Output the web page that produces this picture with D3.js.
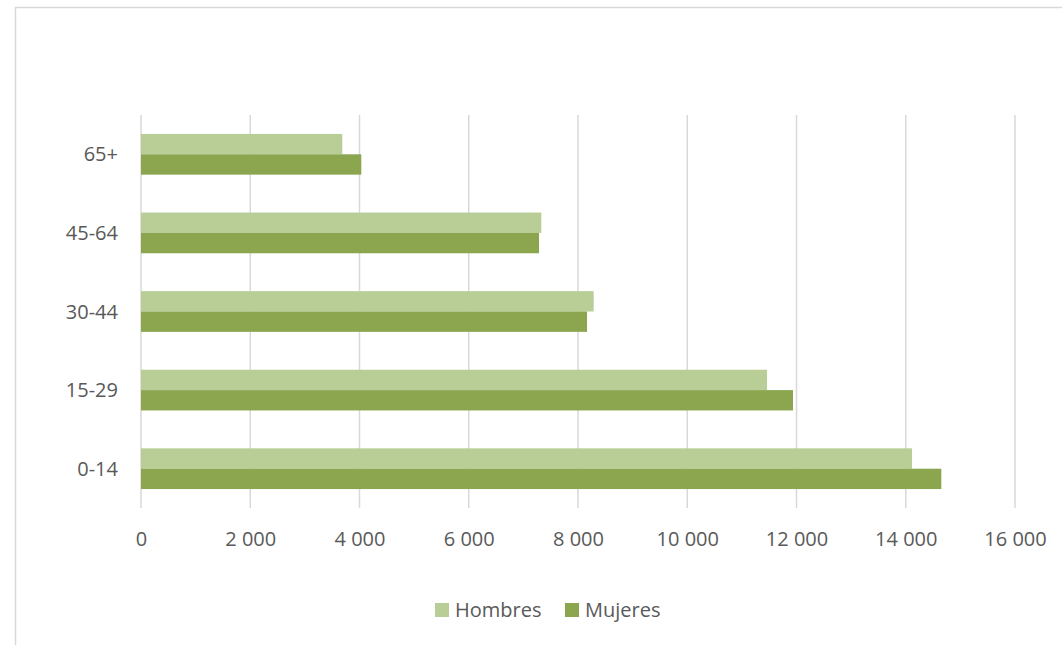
<!DOCTYPE html>
<html>
<head>
<meta charset="utf-8">
<script src="https://cdn.jsdelivr.net/npm/d3@7/dist/d3.min.js"></script>
<style>
  html, body { margin: 0; padding: 0; background: #fff; }
  svg { display: block; }
  text { font-family: "Open Sans", "Liberation Sans", sans-serif; fill: #595959; }
</style>
</head>
<body>
<svg id="chart" width="1062" height="645"></svg>
<script>
// Population by age group and sex
const groups = ["0-14", "15-29", "30-44", "45-64", "65+"];
const seriesNames = ["Hombres", "Mujeres"];
const hombres = [14115, 11460, 8287, 7328, 3685];
const mujeres = [14651, 11936, 8165, 7286, 4033];
const xTicks = [0, 2000, 4000, 6000, 8000, 10000, 12000, 14000, 16000];
const colors = { Hombres: "#b9ce97", Mujeres: "#8ba64f" };

const svg = d3.select("#chart");
const W = 1062, H = 645;

// chart frame
svg.append("rect")
  .attr("x", 15.5).attr("y", 7.5)
  .attr("width", W + 10).attr("height", H + 10)
  .attr("fill", "#fff").attr("stroke", "#d9d9d9").attr("stroke-width", 1.5);

const plot = { left: 141, right: 1015, top: 115, bottom: 508 };

const x = d3.scaleLinear().domain([0, 16000]).range([plot.left, plot.right]);
// top of the plot holds the last group
const y = d3.scaleBand().domain(groups.slice().reverse())
  .range([plot.top, plot.bottom]).paddingInner(0.482).paddingOuter(0.241);
const sub = d3.scaleBand().domain(seriesNames).range([0, y.bandwidth()]);

// vertical gridlines
svg.append("g").selectAll("line").data(xTicks).join("line")
  .attr("x1", d => x(d)).attr("x2", d => x(d))
  .attr("y1", plot.top).attr("y2", plot.bottom)
  .attr("stroke", "#d9d9d9").attr("stroke-width", 1.5);

// bars
const rows = groups.map((g, i) => ({ g, Hombres: hombres[i], Mujeres: mujeres[i] }));
const gRow = svg.append("g").selectAll("g").data(rows).join("g")
  .attr("transform", d => `translate(0,${y(d.g)})`);
gRow.selectAll("rect")
  .data(d => seriesNames.map(s => ({ s, v: d[s] })))
  .join("rect")
  .attr("x", x(0))
  .attr("y", d => sub(d.s))
  .attr("width", d => x(d.v) - x(0))
  .attr("height", sub.bandwidth())
  .attr("fill", d => colors[d.s]);

// x axis labels
const fmt = v => d3.format(",")(v).replace(/,/g, " ");
const xAxis = d3.axisBottom(x).tickValues(xTicks).tickFormat(fmt).tickSize(0).tickPadding(0);
const gx = svg.append("g").attr("transform", `translate(0,${plot.bottom})`).call(xAxis);
gx.select(".domain").remove();
gx.selectAll("text")
  .attr("y", 38).attr("dy", null)
  .style("font-size", "20px")
  .style("font-family", "\"Open Sans\", \"Liberation Sans\", sans-serif")
  .attr("fill", "#595959");

// y axis labels
const yAxis = d3.axisLeft(y).tickSize(0).tickPadding(0);
const gy = svg.append("g").attr("transform", `translate(118,0)`).call(yAxis);
gy.select(".domain").remove();
gy.selectAll("text")
  .attr("dy", "0.35em")
  .style("font-size", "20px")
  .style("font-family", "\"Open Sans\", \"Liberation Sans\", sans-serif")
  .attr("fill", "#595959");

// legend
const legendItems = [
  { s: "Hombres", x: 435 },
  { s: "Mujeres", x: 565 }
];
const lg = svg.append("g").selectAll("g").data(legendItems).join("g")
  .attr("transform", d => `translate(${d.x},603)`);
lg.append("rect").attr("width", 14).attr("height", 14).attr("fill", d => colors[d.s]);
lg.append("text").attr("x", 20).attr("y", 14)
  .style("font-size", "20px").text(d => d.s);
</script>
</body>
</html>
